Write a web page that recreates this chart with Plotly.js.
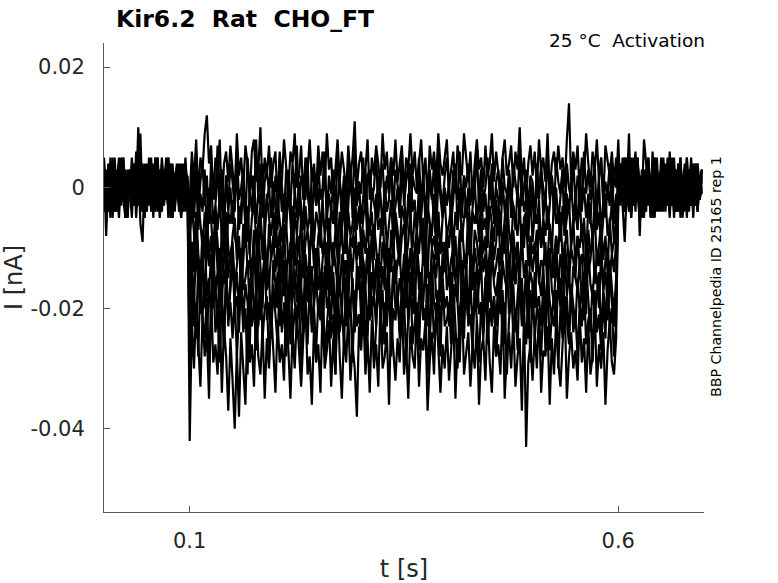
<!DOCTYPE html>
<html>
<head>
<meta charset="utf-8">
<script src="https://cdn.plot.ly/plotly-3.0.1.min.js"></script>
<style>html,body{margin:0;padding:0;background:#fff;}#chart{width:778px;height:583px;}</style>
</head>
<body>
<div id="chart"></div>
<script>
// Current traces (pA), sampled every 2.5 ms from t = 0 s: 40 pre-step, 200 step, 40 post-step samples
const sampleStart_s = 0;
const sampleStep_s = 0.0025;

const sweep1_pA = [
 2,-3,4,-1,3,-4,1,5,-2,0,3,-5,2,-1,4,-3,0,9,-4,3,
 1,-2,5,-3,2,-1,-4,3,0,4,-2,1,-5,2,3,-1,4,-3,1,-2,
 -2,6,1,8,-1,5,3,9,12,4,7,-2,5,2,8,-3,4,6,1,7,
 3,-1,9,2,5,0,7,4,-2,6,8,1,3,10,-1,5,2,7,0,4,
 6,-3,5,1,8,3,-1,6,4,9,0,2,7,-2,5,3,8,1,4,-1,
 7,2,6,0,9,3,5,-2,4,8,1,6,3,-1,7,2,5,11,0,4,
 6,1,3,8,-2,5,2,7,4,0,9,3,6,-1,5,2,8,1,4,7,
 -1,5,3,9,2,6,0,4,8,1,5,-2,7,3,6,1,9,4,2,5,
 8,0,3,6,-1,7,4,2,9,5,1,6,-2,4,8,3,5,0,7,2,
 4,9,1,6,3,-1,5,8,2,4,7,0,6,3,10,1,5,-2,4,7,
 2,6,0,8,3,5,1,9,-1,4,6,2,7,3,5,0,8,14,1,6,
 3,7,-1,5,2,9,4,0,6,3,8,1,5,-2,7,4,2,6,1,5,
 -3,4,0,5,-2,3,-4,1,6,-1,2,-5,3,0,4,-3,2,-1,5,-2,
 1,3,-4,2,0,5,-3,1,-1,4,-2,3,-5,2,1,-3,4,0,-2,3
];
const sweep2_pA = [
 -1,3,-4,2,0,5,-3,1,-2,4,-5,2,1,-3,3,-1,10,-2,0,-4,
 3,1,-3,4,-1,2,-5,0,3,-2,5,-1,2,-4,1,3,-2,0,4,-3,
 -5,3,-2,6,-4,1,4,-3,2,-6,5,0,-2,7,-1,3,-5,2,-3,4,
 1,-4,6,-2,0,3,-6,5,-1,2,-3,8,-2,4,-5,1,3,-1,5,-4,
 2,-2,6,0,-5,3,1,-3,4,-1,7,-4,2,0,-2,5,-6,3,1,-3,
 4,-2,0,6,-5,2,-1,3,-4,5,1,-3,2,-6,4,0,-2,7,-3,1,
 -1,5,-4,2,3,-2,0,6,-5,1,4,-3,2,-1,5,-4,3,0,-2,6,
 -3,1,4,-5,2,0,-1,5,-3,3,-6,2,1,-2,4,-4,6,0,-3,2,
 5,-1,-4,3,1,-2,6,-5,2,0,4,-3,1,-1,7,-4,3,-2,0,5,
 -2,4,-6,1,3,-3,5,0,-1,2,-5,4,1,-2,6,-3,0,3,-4,2,
 1,-5,4,-1,3,0,-3,6,-2,2,-4,5,1,-1,3,-6,4,0,-2,5,
 -3,2,1,-4,6,-1,3,-2,0,4,-5,2,5,-3,1,-1,4,-4,2,0,
 8,-2,5,-4,1,0,-3,4,-1,2,-5,3,1,-2,4,-3,0,5,-1,2,
 -4,3,1,-2,6,-3,0,2,-1,4,-5,1,3,-2,0,4,-3,2,-1,1
];
const sweep3_pA = [
 4,-8,1,-5,3,0,-3,2,5,-1,-4,2,0,3,-2,6,-3,1,-1,4,
 -2,0,3,-5,2,1,-3,4,-1,-2,5,0,-4,2,3,-1,1,-3,4,0,
 -8,0,-5,2,-7,-1,-4,3,-9,-2,1,-6,-3,4,-5,-1,-8,2,-4,0,
 -6,-2,3,-7,-3,1,-5,-9,0,-4,2,-6,-1,-3,4,-8,-2,0,-5,1,
 -3,-7,2,-4,-1,-6,3,-2,-9,0,-5,1,-3,-7,4,-1,-4,-6,2,-3,
 0,-8,-2,3,-5,-1,-4,1,-7,-3,2,-6,0,-10,-2,4,-5,-1,-3,1,
 -6,-2,3,-4,-8,0,-3,-5,2,-1,-7,1,-4,-2,5,-6,-3,0,-5,2,
 -1,-7,-3,4,-4,-2,-8,1,-5,0,-3,-6,3,-1,-4,-9,2,-2,-5,0,
 -3,1,-6,-2,4,-7,-1,-4,2,-5,0,-8,-3,1,-6,-2,3,-4,-1,-7,
 2,-3,-5,0,-2,-8,1,-4,-6,3,-1,-3,-7,0,-5,2,-4,-2,-9,1,
 -3,-6,0,-2,4,-5,-1,-7,-3,2,-4,0,-6,-2,3,-8,-1,-4,1,-5,
 -2,-7,3,-3,0,-5,-1,-6,2,-4,-3,1,-8,-2,-5,0,-3,4,-6,-1,
 -2,3,0,-4,5,-1,2,-3,4,0,-5,2,1,-2,3,-4,6,-1,0,-3,
 2,4,-2,1,-5,3,0,-1,4,-3,2,-2,5,-4,1,0,-3,3,-1,2
];
const sweep4_pA = [
 0,-4,3,-1,5,-3,2,-2,1,4,-5,0,3,-3,2,-1,4,-6,-9,3,
 -2,5,-1,0,-4,3,1,-3,2,-2,4,-5,1,0,3,-4,2,-1,5,-2,
 -9,-3,-7,-12,-2,-6,-10,-4,-8,0,-5,-11,-3,-7,-1,-9,-5,-13,-4,-6,
 -2,-8,-10,-3,-6,1,-7,-4,-11,-5,-2,-9,-6,-3,-12,-7,-1,-5,-8,-4,
 -10,-2,-6,-9,-3,-7,0,-5,-11,-4,-8,-2,-6,-13,-3,-7,-5,-1,-9,-4,
 -6,-10,-2,-8,-4,-12,-3,-6,-1,-9,-5,-7,-2,-11,-4,-8,-6,0,-7,-3,
 -10,-5,-2,-9,-6,-4,-12,-1,-7,-5,-8,-3,-10,-6,-2,-9,-4,-7,-11,-3,
 -5,-8,-1,-6,-10,-4,-7,-2,-9,-5,-13,-3,-6,-8,-1,-7,-4,-11,-5,-2,
 -8,-6,-3,-10,-4,-7,0,-9,-5,-2,-8,-12,-4,-6,-3,-9,-1,-7,-5,-10,
 -3,-6,-9,-2,-8,-4,-11,-5,-1,-7,-10,-3,-6,-8,-2,-12,-5,-4,-7,-1,
 -9,-4,-6,-2,-10,-5,-8,-3,-7,-11,-1,-6,-4,-9,-3,-8,-5,-2,-10,-6,
 -4,-7,-1,-9,-5,-12,-3,-6,-8,-2,-7,-4,-10,-5,-1,-8,-6,-3,-9,-5,
 1,-3,4,-2,0,5,-4,2,-1,3,-5,1,2,-3,4,0,-2,5,-4,1,
 3,-1,-3,2,0,4,-5,2,-2,3,1,-4,5,-1,0,-3,2,4,-2,0
];
const sweep5_pA = [
 -3,2,-1,4,-5,1,3,-2,0,5,-4,2,-1,3,-3,1,4,-2,0,-5,
 2,3,-1,-4,5,0,-2,3,-3,1,-1,4,-5,2,0,-3,3,1,-4,2,
 -6,-13,-9,-4,-11,-15,-7,-10,-3,-12,-8,-14,-5,-9,-16,-7,-11,-4,-10,-13,
 -8,-5,-12,-9,-15,-6,-10,-3,-11,-14,-7,-9,-13,-5,-10,-8,-16,-6,-12,-9,
 -4,-11,-7,-14,-9,-6,-12,-10,-3,-13,-8,-11,-5,-15,-9,-7,-12,-4,-10,-14,
 -8,-6,-11,-9,-17,-5,-10,-13,-7,-12,-4,-9,-11,-6,-14,-8,-10,-3,-12,-9,
 -15,-7,-11,-5,-13,-9,-6,-10,-14,-8,-4,-12,-9,-16,-7,-11,-5,-10,-13,-8,
 -6,-12,-9,-3,-14,-10,-7,-11,-5,-13,-9,-15,-6,-10,-8,-12,-4,-11,-9,-14,
 -7,-10,-5,-13,-8,-16,-9,-6,-11,-12,-4,-10,-14,-7,-9,-13,-5,-11,-8,-15,
 -10,-6,-12,-9,-3,-13,-8,-11,-5,-14,-10,-7,-12,-9,-16,-6,-10,-4,-13,-8,
 -11,-9,-14,-5,-10,-7,-13,-12,-6,-9,-15,-8,-11,-4,-12,-10,-7,-14,-9,-5,
 -13,-8,-10,-6,-12,-15,-7,-11,-9,-4,-13,-10,-6,-12,-8,-14,-5,-11,-9,-7,
 2,-1,4,-3,0,9,-5,1,-2,5,-1,2,-4,3,0,-3,4,-2,1,-1,
 -3,5,0,2,-4,1,3,-2,4,-5,0,2,-1,3,-3,1,-2,4,0,-1
];
const sweep6_pA = [
 5,-2,0,3,-4,1,-1,4,-3,2,0,-5,3,1,-2,4,-1,-3,2,0,
 -4,3,1,-2,5,-3,0,2,-1,4,-5,1,3,-3,0,2,-2,4,-1,1,
 -18,-9,-14,-6,-12,-16,-10,-20,-8,-13,-11,-17,-5,-14,-10,-19,-12,-7,-15,-11,
 -9,-16,-13,-8,-18,-11,-6,-14,-12,-17,-10,-15,-7,-13,-20,-9,-12,-16,-11,-8,
 -14,-10,-18,-12,-6,-15,-11,-13,-9,-17,-12,-8,-16,-10,-14,-19,-11,-7,-13,-15,
 -10,-17,-12,-8,-14,-11,-18,-9,-13,-16,-10,-6,-15,-12,-19,-11,-14,-8,-13,-17,
 -9,-12,-16,-10,-14,-7,-18,-12,-11,-15,-9,-13,-20,-10,-14,-8,-16,-12,-11,-17,
 -13,-8,-15,-10,-18,-12,-9,-14,-16,-11,-6,-13,-17,-10,-12,-15,-9,-19,-11,-14,
 -8,-16,-12,-10,-15,-13,-7,-18,-11,-14,-9,-12,-17,-10,-13,-16,-8,-14,-11,-20,
 -12,-9,-15,-13,-10,-17,-11,-6,-14,-12,-18,-9,-16,-11,-13,-8,-15,-12,-19,-10,
 -14,-11,-7,-16,-12,-13,-9,-18,-10,-15,-12,-8,-17,-11,-14,-9,-13,-16,-10,-12,
 -15,-8,-13,-11,-18,-10,-14,-12,-7,-16,-11,-13,-9,-17,-12,-10,-15,-11,-14,-9,
 -1,4,-3,-9,0,-4,3,1,-2,5,-3,0,2,-1,4,-5,1,3,-2,0,
 3,-3,1,4,-2,-1,5,-4,2,0,-3,3,1,-2,4,-1,0,-4,2,1
];
const sweep7_pA = [
 3,0,-3,5,-1,2,-4,1,4,-2,-5,3,0,2,-3,4,-1,1,-4,3,
 0,-2,4,-3,2,5,-1,-4,1,3,-2,0,4,-3,2,-1,-5,3,1,-2,
 -30,-12,-19,-10,-16,-21,-13,-8,-18,-15,-22,-11,-17,-14,-20,-9,-16,-13,-23,-15,
 -11,-18,-14,-21,-10,-17,-15,-12,-20,-16,-8,-19,-13,-22,-15,-11,-17,-14,-24,-12,
 -16,-20,-10,-15,-18,-13,-21,-9,-17,-14,-19,-12,-16,-22,-11,-15,-18,-13,-20,-10,
 -17,-14,-21,-16,-9,-19,-13,-15,-22,-12,-18,-11,-16,-20,-14,-10,-17,-23,-13,-15,
 -19,-12,-16,-10,-21,-14,-18,-15,-11,-20,-13,-17,-9,-16,-22,-14,-12,-19,-15,-18,
 -11,-20,-14,-16,-13,-21,-10,-17,-15,-19,-12,-23,-14,-16,-11,-18,-20,-13,-15,-9,
 -17,-14,-21,-12,-16,-19,-10,-15,-18,-13,-22,-11,-17,-14,-20,-16,-12,-24,-15,-13,
 -19,-10,-16,-18,-14,-21,-12,-15,-17,-11,-20,-13,-16,-9,-19,-15,-22,-12,-17,-14,
 -16,-20,-11,-15,-18,-13,-21,-14,-10,-17,-19,-12,-16,-15,-22,-11,-18,-14,-20,-13,
 -15,-17,-12,-19,-14,-21,-10,-16,-18,-13,-15,-20,-11,-17,-14,-19,-12,-16,-21,-15,
 -2,3,1,-4,2,-1,5,-3,0,4,-8,1,-5,3,2,-1,-3,4,0,-2,
 5,-4,1,3,-1,-2,4,-3,2,0,-4,3,1,-1,5,-3,2,-2,0,3
];
const sweep8_pA = [
 -4,1,3,-2,4,-1,0,-5,2,3,-3,1,-1,5,-2,0,3,-4,2,-1,
 4,-3,1,0,-2,5,-4,2,3,-1,-3,4,0,-2,1,3,-5,2,-1,0,
 -14,-22,-17,-25,-12,-19,-21,-15,-24,-18,-11,-20,-16,-23,-13,-19,-26,-15,-21,-17,
 -12,-20,-18,-24,-14,-22,-16,-19,-27,-13,-21,-17,-23,-15,-18,-11,-22,-19,-25,-16,
 -20,-14,-23,-18,-12,-21,-17,-26,-15,-19,-22,-13,-20,-24,-16,-18,-11,-23,-19,-15,
 -21,-17,-25,-13,-20,-18,-22,-14,-27,-19,-16,-21,-12,-23,-18,-20,-15,-24,-17,-13,
 -22,-19,-16,-25,-14,-20,-18,-23,-11,-21,-17,-26,-15,-19,-22,-13,-20,-18,-24,-16,
 -19,-12,-23,-17,-21,-15,-25,-18,-14,-20,-22,-16,-27,-13,-19,-21,-17,-24,-15,-20,
 -18,-23,-14,-21,-16,-19,-26,-12,-20,-18,-22,-15,-24,-17,-13,-21,-19,-25,-16,-20,
 -14,-22,-18,-23,-15,-19,-17,-26,-12,-21,-20,-16,-24,-18,-13,-22,-19,-15,-25,-17,
 -21,-14,-20,-18,-23,-16,-27,-13,-19,-22,-17,-24,-15,-20,-12,-21,-18,-25,-16,-19,
 -23,-15,-20,-17,-22,-13,-19,-24,-16,-21,-18,-14,-25,-17,-20,-22,-15,-19,-23,-18,
 1,-2,4,0,-3,2,-1,5,-4,3,0,-2,8,4,-3,2,-5,0,3,-1,
 -2,4,1,-3,0,2,-4,3,-1,5,-2,1,0,-3,4,-1,2,-4,1,3
];
const sweep9_pA = [
 2,-3,0,4,-1,-4,3,1,-2,5,0,-3,2,-1,4,-5,1,3,-2,0,
 -1,4,-3,2,1,-4,3,0,-2,5,-1,2,-3,1,4,-2,0,-4,3,-1,
 -27,-16,-23,-19,-28,-14,-22,-25,-18,-30,-20,-15,-24,-21,-29,-17,-26,-13,-22,-19,
 -25,-18,-28,-21,-16,-24,-20,-31,-15,-23,-19,-27,-22,-14,-25,-20,-18,-29,-23,-17,
 -21,-26,-15,-24,-19,-28,-22,-13,-25,-20,-23,-17,-30,-21,-18,-26,-16,-24,-20,-27,
 -19,-22,-14,-28,-23,-18,-25,-21,-31,-16,-24,-20,-26,-15,-22,-19,-29,-17,-23,-21,
 -25,-13,-27,-20,-22,-18,-30,-24,-16,-21,-26,-19,-23,-15,-28,-20,-22,-17,-25,-24,
 -18,-29,-21,-14,-26,-23,-19,-27,-16,-22,-20,-31,-24,-17,-25,-21,-18,-28,-15,-23,
 -22,-19,-26,-16,-24,-30,-20,-18,-25,-13,-23,-21,-27,-17,-22,-29,-19,-24,-15,-26,
 -20,-23,-18,-28,-21,-16,-25,-19,-31,-22,-17,-24,-20,-27,-14,-23,-21,-26,-18,-29,
 -16,-25,-20,-22,-28,-19,-24,-15,-27,-21,-23,-17,-30,-20,-25,-18,-22,-26,-16,-24,
 -21,-28,-19,-23,-15,-26,-22,-20,-29,-17,-24,-21,-27,-18,-25,-14,-23,-20,-28,-22,
 -3,2,0,5,-2,1,-4,3,-1,4,0,-3,2,-2,5,-1,1,-5,3,0,
 2,-3,4,-1,1,-2,3,0,-4,5,-2,2,-1,3,-3,0,4,-2,1,-1
];
const sweep10_pA = [
 1,-3,2,0,-4,3,-1,2,-2,4,-3,1,0,-5,3,-1,2,-3,4,0,
 -2,3,-4,1,2,-1,-3,5,0,-2,3,-4,1,2,-1,4,-3,0,2,-1,
 -42,-22,-30,-19,-27,-33,-21,-28,-24,-35,-18,-29,-26,-31,-20,-34,-23,-28,-37,-25,
 -32,-40,-27,-38,-24,-30,-36,-21,-29,-26,-33,-19,-28,-31,-23,-35,-25,-30,-20,-27,
 -34,-22,-29,-26,-32,-18,-28,-35,-24,-30,-21,-27,-33,-25,-19,-31,-28,-36,-23,-29,
 -26,-34,-20,-30,-27,-22,-33,-25,-31,-17,-28,-35,-24,-29,-21,-32,-26,-30,-38,-23,
 -27,-20,-31,-25,-34,-22,-29,-26,-33,-19,-30,-28,-24,-36,-21,-27,-32,-25,-29,-18,
 -31,-26,-35,-23,-28,-30,-20,-33,-25,-27,-22,-37,-29,-24,-31,-19,-28,-34,-26,-30,
 -23,-32,-27,-21,-35,-25,-29,-18,-31,-28,-24,-33,-26,-30,-22,-36,-27,-25,-32,-20,
 -29,-34,-23,-28,-26,-31,-19,-35,-27,-24,-30,-22,-33,-28,-25,-37,-21,-43,-29,-26,
 -32,-24,-30,-20,-34,-27,-28,-23,-36,-25,-31,-22,-29,-33,-26,-19,-35,-28,-24,-30,
 -27,-32,-21,-29,-25,-34,-23,-31,-28,-20,-33,-26,-30,-24,-36,-27,-22,-29,-31,-25,
 4,-1,2,-3,0,3,-5,1,-2,4,-3,2,0,-4,5,-1,-2,3,1,-4,
 2,0,-3,5,-1,3,-2,-4,2,1,-1,4,-3,0,2,-5,3,-2,1,0
];

const sweeps = [sweep1_pA, sweep2_pA, sweep3_pA, sweep4_pA, sweep5_pA,
                sweep6_pA, sweep7_pA, sweep8_pA, sweep9_pA, sweep10_pA];

const xTickVals = [0.1, 0.6];
const xTickText = ['0.1', '0.6'];
const yTickVals = [-0.04, -0.02, 0, 0.02];
const yTickText = ['-0.04', '-0.02', '0', '0.02'];

const traces = sweeps.map(s => ({
  type: 'scatter',
  mode: 'lines',
  x0: sampleStart_s,
  dx: sampleStep_s,
  y: s.map(v => v / 1000),
  line: {color: '#000000', width: 2.2},
  hoverinfo: 'skip',
  showlegend: false
}));

const FONT = 'DejaVu Sans, sans-serif';
const layout = {
  width: 778, height: 583,
  margin: {l: 104, r: 74, t: 43, b: 71, pad: 0},
  paper_bgcolor: '#ffffff', plot_bgcolor: '#ffffff',
  font: {family: FONT, color: '#262626'},
  showlegend: false,
  title: {
    text: '<b>Kir6.2\u00a0\u00a0Rat\u00a0\u00a0CHO_FT</b>',
    font: {family: FONT, size: 23.5, color: '#000000'},
    xref: 'container', yref: 'container',
    x: 116 / 778, xanchor: 'left',
    y: 1 - 19 / 583, yanchor: 'middle'
  },
  xaxis: {
    range: [0, 0.7],
    tickvals: xTickVals, ticktext: xTickText,
    ticks: 'inside', ticklen: 6, tickwidth: 1, tickcolor: '#5a5a5a',
    showline: true, linecolor: '#5a5a5a', linewidth: 1,
    showgrid: false, zeroline: false, mirror: false,
    tickfont: {family: FONT, size: 21, color: '#262626'},
    ticklabelstandoff: 10,
    title: {text: 't [s]', font: {family: FONT, size: 24, color: '#262626'}, standoff: 8}
  },
  yaxis: {
    range: [-0.0538, 0.024],
    tickvals: yTickVals, ticktext: yTickText,
    ticks: 'inside', ticklen: 6, tickwidth: 1, tickcolor: '#5a5a5a',
    showline: true, linecolor: '#5a5a5a', linewidth: 1,
    showgrid: false, zeroline: false, mirror: false,
    tickfont: {family: FONT, size: 21, color: '#262626'},
    ticklabelstandoff: 14,
    title: {text: 'I [nA]', font: {family: FONT, size: 24, color: '#262626'}, standoff: 14}
  },
  annotations: [
    {
      text: '25 °C\u00a0\u00a0Activation',
      xref: 'paper', yref: 'paper', x: 1.005, y: 1 + 2 / 469,
      xanchor: 'right', yanchor: 'middle', showarrow: false,
      font: {family: FONT, size: 18.5, color: '#000000'}
    },
    {
      text: 'BBP Channelpedia ID 25165 rep 1',
      xref: 'paper', yref: 'paper', x: (716 - 104) / 600, y: (512 - 277) / 469,
      xanchor: 'center', yanchor: 'middle', showarrow: false, textangle: -90,
      font: {family: FONT, size: 14.2, color: '#000000'}
    }
  ]
};

Plotly.newPlot('chart', traces, layout, {staticPlot: true, displayModeBar: false});
</script>
</body>
</html>
